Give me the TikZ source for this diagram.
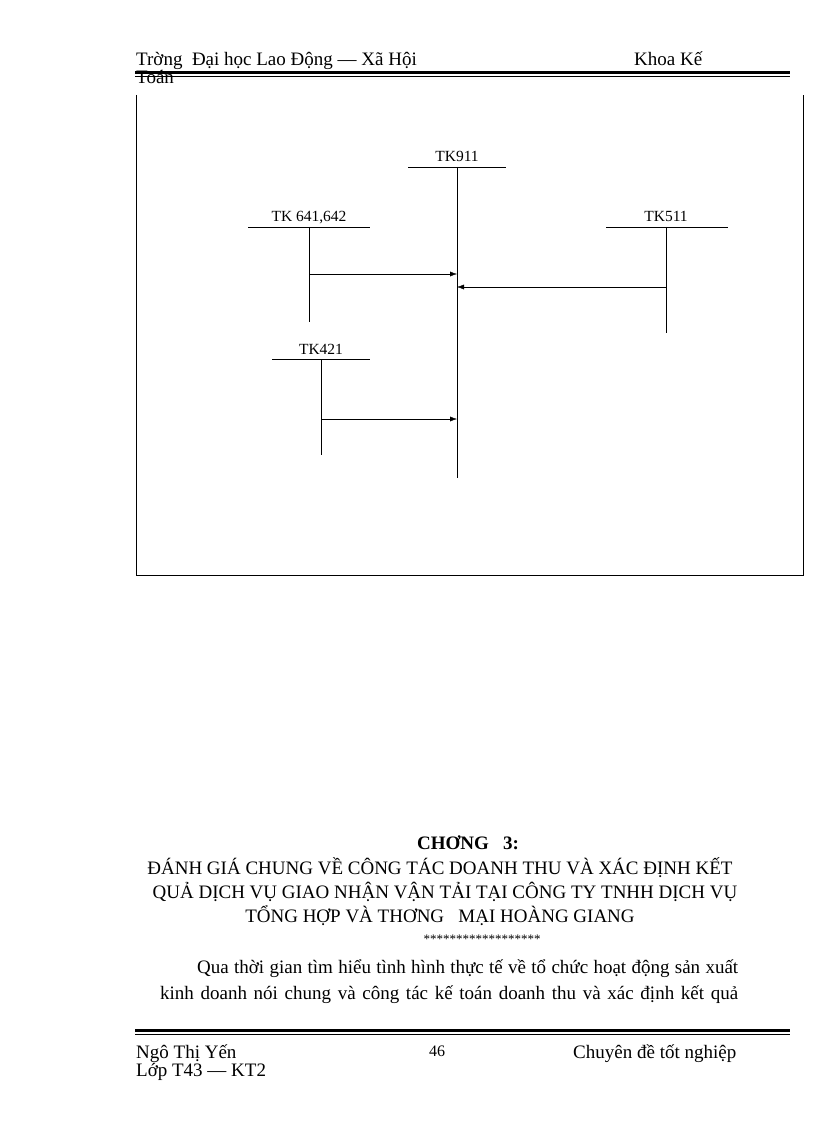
\documentclass[tikz,border=0pt]{standalone}
\usepackage{fontspec}
\setmainfont{Liberation Serif}
\usetikzlibrary{arrows.meta}
\begin{document}
\begin{tikzpicture}[x=1pt,y=-1pt,
  lbl/.style={font=\fontsize{15.5}{15}\selectfont,inner sep=0pt,anchor=base},
  txt/.style={font=\fontsize{19}{19}\selectfont,inner sep=0pt,anchor=base west},
  ttl/.style={font=\fontsize{19}{19}\selectfont,inner sep=0pt,anchor=base},
  arr/.style={-{Latex[length=7pt,width=5pt]}}]
\useasboundingbox (0,0) rectangle (816,1123);
% header
\node[txt] (h1) at (136,66) {Trờng \ Đại học Lao Động — Xã Hội};
\node[txt] (h2) at (634,66) {Khoa Kế};
\node[txt] (h3) at (136,84) {Toán};
\fill (135,71) rectangle (790,74);
\draw[line width=0.8pt] (135,76) -- (790,76);
% frame
\draw (136,95) -- (136,575) -- (803,575) -- (803,95);
% accounts
\node[lbl] (t911) at (457,162) {TK911};
\draw (408,167) -- (506,167);
\coordinate (a911) at (457,167); \coordinate (b911) at (457,478);
\draw (a911) -- (b911);
\node[lbl] (t641) at (309,222) {TK 641,642};
\draw (248,227) -- (370,227);
\coordinate (a641) at (309,227); \coordinate (b641) at (309,322);
\draw (a641) -- (b641);
\node[lbl] (t511) at (666,222) {TK511};
\draw (606,227) -- (728,227);
\coordinate (a511) at (666,227); \coordinate (b511) at (666,333);
\draw (a511) -- (b511);
\node[lbl] (t421) at (321,354) {TK421};
\draw (272,359) -- (370,359);
\coordinate (a421) at (321,359); \coordinate (b421) at (321,455);
\draw (a421) -- (b421);
\coordinate (s1) at (309,274); \coordinate (e1) at (457,274);
\coordinate (s2) at (666,287); \coordinate (e2) at (457,287);
\coordinate (s3) at (321,419); \coordinate (e3) at (457,419);
\draw[arr] (s1) -- (e1);
\draw[arr] (s2) -- (e2);
\draw[arr] (s3) -- (e3);
% chapter
\node[ttl,font=\fontsize{19}{19}\selectfont\bfseries] (c0) at (468,849) {CHƠNG \ \ 3:};
\node[ttl] (c1) at (440,874) {ĐÁNH GIÁ CHUNG VỀ CÔNG TÁC DOANH THU VÀ XÁC ĐỊNH KẾT};
\node[ttl] (c2) at (445,898) {QUẢ DỊCH VỤ GIAO NHẬN VẬN TẢI TẠI CÔNG TY TNHH DỊCH VỤ};
\node[ttl] (c3) at (440,922) {TỔNG HỢP VÀ THƠNG \ \ MẠI HOÀNG GIANG};
\node[ttl,font=\fontsize{13}{13}\selectfont] (c4) at (482,943) {******************};
\node[txt] (p1) at (197,973) {\makebox[541pt][s]{Qua thời gian tìm hiểu tình hình thực tế về tổ chức hoạt động sản xuất}};
\node[txt] (p2) at (160,999) {\makebox[578pt][s]{kinh doanh nói chung và công tác kế toán doanh thu và xác định kết quả}};
% footer
\fill (135,1029) rectangle (790,1032);
\draw[line width=0.8pt] (135,1034) -- (790,1034);
\node[txt] (f1) at (136,1058) {Ngô Thị Yến};
\node[txt] (f2) at (136,1076) {Lớp T43 — KT2};
\node[lbl,font=\fontsize{16}{16}\selectfont] (f3) at (437,1056) {46};
\node[txt] (f4) at (573,1058) {Chuyên đề tốt nghiệp};
\end{tikzpicture}
\end{document}
